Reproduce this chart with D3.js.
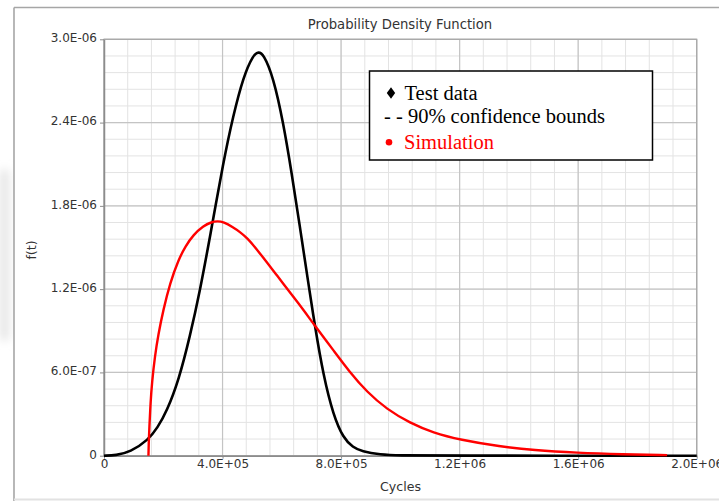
<!DOCTYPE html>
<html><head><meta charset="utf-8">
<script src="https://cdn.jsdelivr.net/npm/d3@7"></script>
<style>html,body{margin:0;padding:0;background:#fff;}svg{display:block;}</style>
</head><body>
<script>
// ---- data ----
const xTickValues = [0, 400000, 800000, 1200000, 1600000, 2000000];
const xTickLabels = ["0", "4.0E+05", "8.0E+05", "1.2E+06", "1.6E+06", "2.0E+06"];
const yTickValues = [0, 6e-7, 1.2e-6, 1.8e-6, 2.4e-6, 3.0e-6];
const yTickLabels = ["0", "6.0E-07", "1.2E-06", "1.8E-06", "2.4E-06", "3.0E-06"];

const testCycles = [0, 40000, 88000, 150000, 180000, 212000, 253000, 290000, 324000, 358000, 403000, 436000, 470000, 504000, 521000, 538000, 571000, 605000, 633000, 661000, 689000, 712000, 740000, 774000, 808000, 840000, 870000, 931000, 1000000, 1100000, 2000000];
const testPdf = [0, 0.003e-6, 0.025e-6, 0.115e-6, 0.2e-6, 0.32e-6, 0.55e-6, 0.86e-6, 1.19e-6, 1.58e-6, 2.12e-6, 2.45e-6, 2.73e-6, 2.89e-6, 2.91e-6, 2.895e-6, 2.73e-6, 2.40e-6, 2.04e-6, 1.65e-6, 1.25e-6, 0.93e-6, 0.58e-6, 0.29e-6, 0.125e-6, 0.06e-6, 0.03e-6, 0.008e-6, 0.002e-6, 0, 0];

const simCycles = [150000, 151000, 153000, 157000, 162000, 172000, 183000, 200000, 223000, 251000, 275000, 301000, 335000, 363000, 383000, 403000, 436000, 460000, 482000, 515000, 583000, 661000, 712000, 774000, 830000, 887000, 954000, 1033000, 1111000, 1201000, 1336000, 1450000, 1595000, 1750000, 1900000];
const simPdf = [0, 0.1e-6, 0.2e-6, 0.38e-6, 0.53e-6, 0.72e-6, 0.87e-6, 1.05e-6, 1.245e-6, 1.41e-6, 1.51e-6, 1.59e-6, 1.655e-6, 1.684e-6, 1.69e-6, 1.684e-6, 1.645e-6, 1.61e-6, 1.57e-6, 1.49e-6, 1.3e-6, 1.085e-6, 0.935e-6, 0.76e-6, 0.6e-6, 0.46e-6, 0.335e-6, 0.235e-6, 0.165e-6, 0.115e-6, 0.066e-6, 0.04e-6, 0.021e-6, 0.01e-6, 0.004e-6];

const legendLabels = ["Test data", "- - 90% confidence bounds", "Simulation"];

// ---- layout ----
const W = 719, H = 501;
const L = 104, R = 696.7, T = 39.3, B = 455.7;

const svg = d3.select("body").append("svg").attr("width", W).attr("height", H);

// faint shadow left of frame
const defs = svg.append("defs");
defs.append("filter").attr("id", "blur").attr("x", "-50%").attr("y", "-50%").attr("width", "200%").attr("height", "200%")
  .append("feGaussianBlur").attr("stdDeviation", 5);
svg.append("rect").attr("x", 0).attr("y", 170).attr("width", 9).attr("height", 170)
  .attr("fill", "#e4e4e4").attr("filter", "url(#blur)");

// outer frame
svg.append("rect").attr("x", 14).attr("y", 8).attr("width", 705).attr("height", 493).attr("fill", "#fff");
svg.append("line").attr("x1", 14).attr("x2", 14).attr("y1", 7.5).attr("y2", 501).attr("stroke", "#a6a6a6").attr("stroke-width", 1.6);
svg.append("line").attr("x1", 14).attr("x2", 719).attr("y1", 7.5).attr("y2", 7.5).attr("stroke", "#a6a6a6").attr("stroke-width", 1.6);
svg.append("line").attr("x1", 14).attr("x2", 719).attr("y1", 499.5).attr("y2", 499.5).attr("stroke", "#e2e2e2").attr("stroke-width", 2);

const x = d3.scaleLinear().domain([0, 2000000]).range([L, R]);
const y = d3.scaleLinear().domain([0, 3e-6]).range([B, T]);

// grid
const minorX = d3.range(0, 2000001, 80000);
const minorY = d3.range(0, 26).map(i => i * 1.2e-7);
const grid = svg.append("g");
grid.selectAll(".mx").data(minorX).join("line")
  .attr("x1", d => x(d)).attr("x2", d => x(d)).attr("y1", T).attr("y2", B)
  .attr("stroke", "#e3e3e3").attr("stroke-width", 1);
grid.selectAll(".my").data(minorY).join("line")
  .attr("x1", L).attr("x2", R).attr("y1", d => y(d)).attr("y2", d => y(d))
  .attr("stroke", "#e3e3e3").attr("stroke-width", 1);
grid.selectAll(".Mx").data(xTickValues).join("line")
  .attr("x1", d => x(d)).attr("x2", d => x(d)).attr("y1", T).attr("y2", B)
  .attr("stroke", "#c4c4c4").attr("stroke-width", 1.2);
grid.selectAll(".My").data(yTickValues).join("line")
  .attr("x1", L).attr("x2", R).attr("y1", d => y(d)).attr("y2", d => y(d))
  .attr("stroke", "#c4c4c4").attr("stroke-width", 1.2);

// plot border
svg.append("rect").attr("x", L).attr("y", T).attr("width", R - L).attr("height", B - T)
  .attr("fill", "none").attr("stroke", "#a8a8a8").attr("stroke-width", 1.3);

// axes
const font = "'DejaVu Sans', Verdana, sans-serif";
const xAxis = d3.axisBottom(x).tickValues(xTickValues).tickFormat((d, i) => xTickLabels[i]).tickSize(3).tickSizeOuter(0);
const gx = svg.append("g").attr("transform", `translate(0,${B})`).call(xAxis);
gx.select(".domain").attr("stroke", "#8c8c8c").attr("stroke-width", 1.5);
gx.selectAll(".tick line").attr("stroke", "#8c8c8c");
gx.selectAll(".tick text").attr("font-family", font).attr("font-size", 12).attr("fill", "#333").attr("dy", "0.55em");

const yAxis = d3.axisLeft(y).tickValues(yTickValues).tickFormat((d, i) => yTickLabels[i]).tickSize(4).tickPadding(3).tickSizeOuter(0);
const gy = svg.append("g").attr("transform", `translate(${L},0)`).call(yAxis);
gy.select(".domain").attr("stroke", "#8c8c8c").attr("stroke-width", 1.5);
gy.selectAll(".tick line").attr("stroke", "#8c8c8c");
gy.selectAll(".tick text").attr("font-family", font).attr("font-size", 12).attr("fill", "#333").attr("dy", "0.2em");

// titles
svg.append("text").attr("x", 400).attr("y", 29).attr("text-anchor", "middle")
  .attr("font-family", font).attr("font-size", 13.2).attr("fill", "#333").text("Probability Density Function");
svg.append("text").attr("x", 400.5).attr("y", 491).attr("text-anchor", "middle")
  .attr("font-family", font).attr("font-size", 12.6).attr("fill", "#333").text("Cycles");
svg.append("text").attr("transform", "translate(36,250) rotate(-90)").attr("text-anchor", "middle")
  .attr("font-family", font).attr("font-size", 12.6).attr("fill", "#333").text("f(t)");

// curves
const line = d3.line().x(d => x(d[0])).y(d => y(d[1])).curve(d3.curveBasis);
svg.append("path").datum(testCycles.map((c, i) => [c, testPdf[i]]))
  .attr("d", line).attr("fill", "none").attr("stroke", "#000").attr("stroke-width", 2.6).attr("stroke-linejoin", "round");
svg.append("path").datum(simCycles.map((c, i) => [c, simPdf[i]]))
  .attr("d", line).attr("fill", "none").attr("stroke", "#ff0000").attr("stroke-width", 2.4).attr("stroke-linejoin", "round");

// legend
const lg = svg.append("g");
lg.append("rect").attr("x", 369.5).attr("y", 71).attr("width", 283).attr("height", 89)
  .attr("fill", "#fff").attr("stroke", "#000").attr("stroke-width", 1.5);
const serif = "'Liberation Serif', 'Times New Roman', serif";
lg.append("path").attr("d", "M391,87.3 L395.2,93 L391,98.7 L386.8,93 Z").attr("fill", "#000");
lg.append("text").attr("x", 404.5).attr("y", 99.5).attr("font-family", serif).attr("font-size", 20.5).attr("fill", "#000").text(legendLabels[0]);
lg.append("text").attr("x", 384).attr("y", 123).attr("font-family", serif).attr("font-size", 20.5).attr("fill", "#000").text(legendLabels[1]);
lg.append("circle").attr("cx", 389).attr("cy", 142.3).attr("r", 3.3).attr("fill", "#ff0000");
lg.append("text").attr("x", 404).attr("y", 148.5).attr("font-family", serif).attr("font-size", 20.5).attr("fill", "#ff0000").text(legendLabels[2]);
</script>
</body></html>
